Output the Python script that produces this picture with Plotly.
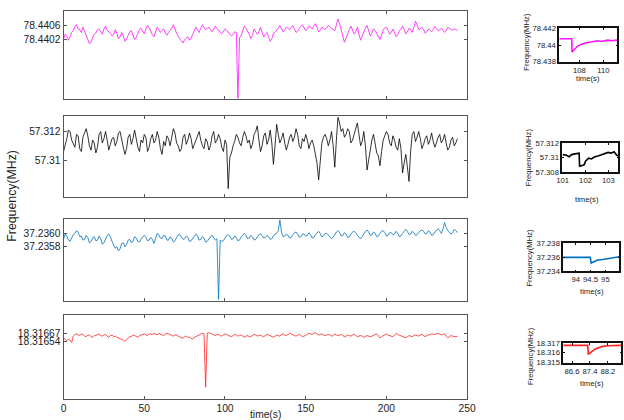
import plotly.graph_objects as go

# ---------------- main series (sampled every 1 s, t = 0 .. 244 s) ----------------
DT = 1.0
mag_vals = [78.44022, 78.44035, 78.44030, 78.44018, 78.44028, 78.44040, 78.44045, 78.44058, 78.44062, 78.44050,
            78.44048, 78.44040, 78.44055, 78.44045, 78.44030, 78.44020, 78.44008, 78.44012, 78.44025, 78.44035,
            78.44038, 78.44048, 78.44050, 78.44040, 78.44035, 78.44050, 78.44058, 78.44046, 78.44042, 78.44038,
            78.44030, 78.44034, 78.44048, 78.44038, 78.44022, 78.44028, 78.44040, 78.44030, 78.44015, 78.44020,
            78.44032, 78.44042, 78.44045, 78.44030, 78.44020, 78.44026, 78.44038, 78.44048, 78.44052, 78.44042,
            78.44036, 78.44050, 78.44060, 78.44055, 78.44044, 78.44034, 78.44028, 78.44042, 78.44055, 78.44048,
            78.44040, 78.44046, 78.44050, 78.44038, 78.44032, 78.44040, 78.44046, 78.44052, 78.44062, 78.44048,
            78.44038, 78.44030, 78.44020, 78.44016, 78.44010, 78.44020, 78.44025, 78.44028, 78.44018, 78.44024,
            78.44035, 78.44045, 78.44055, 78.44046, 78.44040, 78.44052, 78.44062, 78.44054, 78.44048, 78.44052,
            78.44055, 78.44048, 78.44042, 78.44050, 78.44058, 78.44052, 78.44045, 78.44040, 78.44036, 78.44044,
            78.44050, 78.44046, 78.44040, 78.44036, 78.44030, 78.44034, 78.44042, 78.44040, 78.43852, 78.44025,
            78.44030, 78.44045, 78.44058, 78.44052, 78.44045, 78.44035, 78.44022, 78.44032, 78.44050, 78.44044,
            78.44035, 78.44042, 78.44055, 78.44040, 78.44028, 78.44035, 78.44040, 78.44026, 78.44015, 78.44022,
            78.44038, 78.44040, 78.44045, 78.44052, 78.44060, 78.44050, 78.44042, 78.44048, 78.44055, 78.44052,
            78.44048, 78.44054, 78.44060, 78.44050, 78.44040, 78.44044, 78.44052, 78.44058, 78.44062, 78.44054,
            78.44045, 78.44050, 78.44058, 78.44056, 78.44050, 78.44058, 78.44065, 78.44055, 78.44042, 78.44046,
            78.44055, 78.44052, 78.44048, 78.44054, 78.44060, 78.44056, 78.44052, 78.44048, 78.44045, 78.44062,
            78.44078, 78.44065, 78.44050, 78.44030, 78.44012, 78.44025, 78.44040, 78.44048, 78.44058, 78.44048,
            78.44035, 78.44042, 78.44055, 78.44035, 78.44018, 78.44030, 78.44042, 78.44052, 78.44060, 78.44045,
            78.44030, 78.44038, 78.44050, 78.44046, 78.44038, 78.44030, 78.44020, 78.44032, 78.44048, 78.44052,
            78.44055, 78.44046, 78.44035, 78.44040, 78.44050, 78.44040, 78.44028, 78.44034, 78.44045, 78.44050,
            78.44058, 78.44048, 78.44036, 78.44042, 78.44052, 78.44048, 78.44040, 78.44055, 78.44072, 78.44062,
            78.44048, 78.44050, 78.44055, 78.44048, 78.44038, 78.44042, 78.44050, 78.44047, 78.44042, 78.44048,
            78.44058, 78.44052, 78.44045, 78.44047, 78.44052, 78.44046, 78.44040, 78.44045, 78.44055, 78.44052,
            78.44048, 78.44046, 78.44050, 78.44049, 78.44045]

blk_vals = [57.3106, 57.3110, 57.3115, 57.3121, 57.3120, 57.3114, 57.3112, 57.3109, 57.3118, 57.3117,
            57.3108, 57.3106, 57.3116, 57.3119, 57.3122, 57.3117, 57.3110, 57.3107, 57.3114, 57.3112,
            57.3105, 57.3109, 57.3118, 57.3120, 57.3112, 57.3115, 57.3120, 57.3114, 57.3107, 57.3111,
            57.3115, 57.3116, 57.3110, 57.3113, 57.3119, 57.3120, 57.3113, 57.3109, 57.3104, 57.3108,
            57.3116, 57.3118, 57.3111, 57.3115, 57.3121, 57.3114, 57.3109, 57.3106, 57.3114, 57.3112,
            57.3118, 57.3116, 57.3106, 57.3109, 57.3115, 57.3118, 57.3112, 57.3114, 57.3120, 57.3116,
            57.3108, 57.3104, 57.3113, 57.3110, 57.3117, 57.3115, 57.3110, 57.3116, 57.3122, 57.3119,
            57.3112, 57.3110, 57.3106, 57.3108, 57.3116, 57.3118, 57.3111, 57.3114, 57.3119, 57.3115,
            57.3108, 57.3111, 57.3114, 57.3117, 57.3120, 57.3114, 57.3110, 57.3108, 57.3115, 57.3113,
            57.3107, 57.3110, 57.3117, 57.3120, 57.3112, 57.3114, 57.3118, 57.3115, 57.3109, 57.3106,
            57.3114, 57.3111, 57.3080, 57.3102, 57.3105, 57.3110, 57.3113, 57.3118, 57.3116, 57.3112,
            57.3110, 57.3116, 57.3120, 57.3117, 57.3112, 57.3114, 57.3108, 57.3111, 57.3118, 57.3120,
            57.3124, 57.3114, 57.3106, 57.3110, 57.3117, 57.3119, 57.3111, 57.3114, 57.3121, 57.3112,
            57.3097, 57.3110, 57.3125, 57.3118, 57.3112, 57.3115, 57.3119, 57.3112, 57.3107, 57.3111,
            57.3116, 57.3118, 57.3113, 57.3116, 57.3122, 57.3118, 57.3110, 57.3108, 57.3115, 57.3113,
            57.3118, 57.3114, 57.3108, 57.3112, 57.3114, 57.3110, 57.3104, 57.3098, 57.3086, 57.3102,
            57.3112, 57.3116, 57.3118, 57.3115, 57.3110, 57.3114, 57.3120, 57.3110, 57.3095, 57.3114,
            57.3130, 57.3126, 57.3120, 57.3122, 57.3116, 57.3118, 57.3122, 57.3120, 57.3112, 57.3114,
            57.3118, 57.3122, 57.3126, 57.3118, 57.3110, 57.3113, 57.3120, 57.3110, 57.3093, 57.3100,
            57.3108, 57.3114, 57.3118, 57.3112, 57.3105, 57.3103, 57.3096, 57.3106, 57.3114, 57.3117,
            57.3120, 57.3118, 57.3112, 57.3110, 57.3117, 57.3114, 57.3109, 57.3107, 57.3115, 57.3108,
            57.3091, 57.3098, 57.3104, 57.3095, 57.3085, 57.3106, 57.3118, 57.3120, 57.3113, 57.3116,
            57.3120, 57.3115, 57.3108, 57.3111, 57.3115, 57.3117, 57.3111, 57.3114, 57.3119, 57.3113,
            57.3109, 57.3112, 57.3116, 57.3118, 57.3112, 57.3114, 57.3118, 57.3112, 57.3107, 57.3109,
            57.3114, 57.3116, 57.3110, 57.3112, 57.3115]

blu_vals = [37.23592, 37.23599, 37.23596, 37.23590, 37.23588, 37.23594, 37.23598, 37.23600, 37.23604, 37.23602,
            37.23595, 37.23596, 37.23590, 37.23591, 37.23597, 37.23594, 37.23586, 37.23588, 37.23593, 37.23595,
            37.23589, 37.23590, 37.23596, 37.23592, 37.23584, 37.23586, 37.23592, 37.23597, 37.23599, 37.23595,
            37.23588, 37.23584, 37.23578, 37.23580, 37.23574, 37.23577, 37.23585, 37.23586, 37.23580, 37.23583,
            37.23590, 37.23591, 37.23586, 37.23588, 37.23595, 37.23593, 37.23588, 37.23587, 37.23592, 37.23595,
            37.23597, 37.23594, 37.23589, 37.23590, 37.23594, 37.23591, 37.23585, 37.23593, 37.23600, 37.23598,
            37.23593, 37.23592, 37.23597, 37.23596, 37.23590, 37.23590, 37.23595, 37.23593, 37.23587, 37.23589,
            37.23594, 37.23598, 37.23598, 37.23595, 37.23591, 37.23592, 37.23596, 37.23594, 37.23588, 37.23589,
            37.23593, 37.23596, 37.23599, 37.23596, 37.23590, 37.23591, 37.23595, 37.23593, 37.23587, 37.23588,
            37.23592, 37.23595, 37.23597, 37.23594, 37.23590, 37.23592, 37.23502, 37.23590, 37.23588, 37.23589,
            37.23594, 37.23597, 37.23598, 37.23596, 37.23591, 37.23592, 37.23596, 37.23594, 37.23589, 37.23590,
            37.23595, 37.23598, 37.23600, 37.23597, 37.23592, 37.23593, 37.23597, 37.23595, 37.23590, 37.23591,
            37.23595, 37.23598, 37.23599, 37.23597, 37.23593, 37.23594, 37.23597, 37.23595, 37.23591, 37.23592,
            37.23596, 37.23599, 37.23600, 37.23604, 37.23620, 37.23602, 37.23595, 37.23596, 37.23599, 37.23597,
            37.23593, 37.23594, 37.23598, 37.23601, 37.23602, 37.23599, 37.23594, 37.23595, 37.23599, 37.23599,
            37.23596, 37.23597, 37.23601, 37.23598, 37.23593, 37.23594, 37.23598, 37.23601, 37.23603, 37.23600,
            37.23595, 37.23596, 37.23600, 37.23600, 37.23597, 37.23595, 37.23592, 37.23594, 37.23599, 37.23602,
            37.23604, 37.23601, 37.23596, 37.23597, 37.23601, 37.23599, 37.23594, 37.23595, 37.23599, 37.23602,
            37.23603, 37.23601, 37.23597, 37.23595, 37.23592, 37.23595, 37.23600, 37.23603, 37.23605, 37.23602,
            37.23597, 37.23598, 37.23602, 37.23600, 37.23595, 37.23596, 37.23600, 37.23603, 37.23604, 37.23601,
            37.23596, 37.23597, 37.23601, 37.23601, 37.23598, 37.23599, 37.23603, 37.23600, 37.23595, 37.23596,
            37.23600, 37.23604, 37.23606, 37.23603, 37.23598, 37.23599, 37.23603, 37.23601, 37.23597, 37.23598,
            37.23601, 37.23604, 37.23605, 37.23603, 37.23599, 37.23600, 37.23604, 37.23602, 37.23597, 37.23598,
            37.23602, 37.23605, 37.23607, 37.23604, 37.23600, 37.23606, 37.23616, 37.23609, 37.23604, 37.23602,
            37.23599, 37.23601, 37.23606, 37.23604, 37.23601]

red_vals = [18.31660, 18.31657, 18.31655, 18.31658, 18.31654, 18.31652, 18.31663, 18.31666, 18.31667, 18.31665,
            18.31664, 18.31667, 18.31666, 18.31663, 18.31662, 18.31665, 18.31665, 18.31662, 18.31661, 18.31664,
            18.31664, 18.31666, 18.31667, 18.31664, 18.31663, 18.31665, 18.31666, 18.31663, 18.31661, 18.31664,
            18.31665, 18.31662, 18.31663, 18.31661, 18.31660, 18.31659, 18.31658, 18.31656, 18.31654, 18.31657,
            18.31660, 18.31662, 18.31662, 18.31665, 18.31664, 18.31662, 18.31661, 18.31664, 18.31665, 18.31666,
            18.31667, 18.31665, 18.31664, 18.31667, 18.31666, 18.31666, 18.31668, 18.31666, 18.31665, 18.31668,
            18.31667, 18.31665, 18.31664, 18.31666, 18.31668, 18.31667, 18.31666, 18.31664, 18.31663, 18.31665,
            18.31665, 18.31663, 18.31662, 18.31660, 18.31659, 18.31662, 18.31663, 18.31661, 18.31661, 18.31659,
            18.31658, 18.31661, 18.31662, 18.31664, 18.31665, 18.31667, 18.31668, 18.31667, 18.31573, 18.31668,
            18.31669, 18.31668, 18.31667, 18.31665, 18.31664, 18.31666, 18.31666, 18.31664, 18.31663, 18.31665,
            18.31667, 18.31666, 18.31664, 18.31663, 18.31662, 18.31664, 18.31666, 18.31665, 18.31663, 18.31664,
            18.31665, 18.31663, 18.31661, 18.31663, 18.31664, 18.31662, 18.31662, 18.31664, 18.31666, 18.31665,
            18.31663, 18.31664, 18.31665, 18.31663, 18.31662, 18.31664, 18.31666, 18.31665, 18.31664, 18.31662,
            18.31661, 18.31663, 18.31665, 18.31664, 18.31663, 18.31666, 18.31667, 18.31665, 18.31664, 18.31666,
            18.31668, 18.31667, 18.31665, 18.31664, 18.31663, 18.31665, 18.31666, 18.31664, 18.31662, 18.31663,
            18.31665, 18.31667, 18.31668, 18.31667, 18.31666, 18.31668, 18.31669, 18.31667, 18.31665, 18.31666,
            18.31667, 18.31665, 18.31664, 18.31665, 18.31666, 18.31665, 18.31663, 18.31664, 18.31667, 18.31665,
            18.31664, 18.31665, 18.31666, 18.31664, 18.31662, 18.31663, 18.31665, 18.31664, 18.31663, 18.31665,
            18.31666, 18.31664, 18.31662, 18.31663, 18.31664, 18.31663, 18.31661, 18.31662, 18.31664, 18.31663,
            18.31662, 18.31663, 18.31665, 18.31666, 18.31667, 18.31663, 18.31660, 18.31662, 18.31664, 18.31666,
            18.31667, 18.31665, 18.31664, 18.31663, 18.31662, 18.31665, 18.31668, 18.31666, 18.31665, 18.31664,
            18.31663, 18.31661, 18.31660, 18.31662, 18.31664, 18.31663, 18.31662, 18.31664, 18.31665, 18.31664,
            18.31663, 18.31665, 18.31666, 18.31664, 18.31662, 18.31664, 18.31665, 18.31666, 18.31667, 18.31666,
            18.31666, 18.31667, 18.31668, 18.31666, 18.31665, 18.31666, 18.31667, 18.31663, 18.31660, 18.31662,
            18.31664, 18.31663, 18.31662, 18.31662, 18.31663]

# ---------------- zoomed insets ----------------
mag_zoom_t = [106.33, 107.0, 107.37, 107.39, 107.59, 107.87, 108.14, 108.56, 108.98, 109.54, 109.82, 110.38, 110.66, 111.16]
mag_zoom_v = [78.44076, 78.44076, 78.44076, 78.43916, 78.43948, 78.43988, 78.44008, 78.44028, 78.44036, 78.44052, 78.44044, 78.44060, 78.44052, 78.44060]

blk_zoom_t = [101.0, 101.17, 101.28, 101.39, 101.54, 101.68, 101.72, 101.74, 101.86, 101.94, 102.0, 102.09, 102.14, 102.26, 102.41, 102.55, 102.70, 102.84, 102.99, 103.13, 103.25, 103.35, 103.42]
blk_zoom_v = [57.3104, 57.3103, 57.3101, 57.3104, 57.3105, 57.3106, 57.3106, 57.3088, 57.3089, 57.3090, 57.3095, 57.3097, 57.3099, 57.3098, 57.3101, 57.3102, 57.3104, 57.3106, 57.3107, 57.3106, 57.3108, 57.3104, 57.3102]

blu_zoom_t = [93.58, 94.0, 94.3, 94.49, 94.52, 94.63, 94.74, 94.91, 95.08, 95.30, 95.47]
blu_zoom_v = [37.23600, 37.23600, 37.23600, 37.23600, 37.23519, 37.23543, 37.23562, 37.23571, 37.23586, 37.23595, 37.23610]

red_zoom_t = [86.21, 86.7, 87.0, 87.30, 87.33, 87.45, 87.60, 87.78, 87.97, 88.19, 88.5, 88.79]
red_zoom_v = [18.31679, 18.31679, 18.31679, 18.31679, 18.31582, 18.31611, 18.31636, 18.31654, 18.31668, 18.31675, 18.31678, 18.31679]

# tick labels
main_ytick_vals = [[78.4406, 78.4402], [57.312, 57.31], [37.2360, 37.2358], [18.31667, 18.31654]]
main_ytick_text = [["78.4406", "78.4402"], ["57.312", "57.31"], ["37.2360", "37.2358"], ["18.31667", "18.31654"]]
main_xticks = [0, 50, 100, 150, 200, 250]
inset_ytick_vals = [[78.438, 78.44, 78.442], [57.308, 57.31, 57.312], [37.234, 37.236, 37.238], [18.315, 18.316, 18.317]]
inset_ytick_text = [["78.438", "78.44", "78.442"], ["57.308", "57.31", "57.312"], ["37.234", "37.236", "37.238"], ["18.315", "18.316", "18.317"]]
inset_xtick_vals = [[108, 110], [101, 102, 103], [94, 94.5, 95], [86.6, 87.4, 88.2]]
inset_xtick_text = [["108", "110"], ["101", "102", "103"], ["94", "94.5", "95"], ["86.6", "87.4", "88.2"]]

colors = ["#ff10ff", "#000000", "#0072BD", "#ff2020"]
FONT = "Liberation Sans, Arial, sans-serif"

# The photographed picture shows the page slightly reduced (about 0.975, shifted a few px);
# layout positions below are given in target-picture pixels and converted to figure pixels.
S = 0.975
OX, OY = 5.5, 4.6
W, H = 634, 426

def dx(p):
    return (p - OX) / S

def dy(p):
    return (p - OY) / S

def fs(size):
    return size / S

def px_x(a, b):
    return [dx(a) / W, dx(b) / W]

def px_y(top, bottom):
    return [1 - dy(bottom) / H, 1 - dy(top) / H]

main_y_ranges = [[78.43851, 78.44100], [57.3074, 57.3131], [37.23500, 37.23621], [18.31552, 18.31701]]
main_y_pix = [(12, 99), (116, 197), (219, 300), (314, 398)]
inset_x_ranges = [[106.33, 111.17], [100.98, 103.44], [93.58, 95.47], [86.21, 88.80]]
inset_y_ranges = [[78.438, 78.442], [57.308, 57.312], [37.234, 37.238], [18.31493, 18.31707]]
inset_x_pix = [(558, 616), (561, 617), (562, 618), (562, 620)]
inset_y_pix = [(29, 62), (143, 172), (243, 271), (342, 362)]

fig = go.Figure()
series = [mag_vals, blk_vals, blu_vals, red_vals]
zooms = [(mag_zoom_t, mag_zoom_v), (blk_zoom_t, blk_zoom_v), (blu_zoom_t, blu_zoom_v), (red_zoom_t, red_zoom_v)]
layout = {}
for i in range(4):
    n = i + 1
    xs = "" if n == 1 else str(n)
    vals = series[i]
    t = [k * DT for k in range(len(vals))]
    fig.add_trace(go.Scatter(x=t, y=vals, mode="lines", xaxis="x" + xs, yaxis="y" + xs,
                             line=dict(color=colors[i], width=0.8), showlegend=False, hoverinfo="skip"))
    layout["xaxis" + xs] = dict(domain=px_x(63, 466), range=[0, 250], anchor="y" + xs,
                                tickvals=main_xticks, showticklabels=(i == 3),
                                showline=True, linecolor="#555", linewidth=1, mirror="ticks",
                                ticks="inside", ticklen=3, tickcolor="#555",
                                showgrid=False, zeroline=False,
                                tickfont=dict(family=FONT, size=fs(10), color="#222"))
    top, bot = main_y_pix[i]
    layout["yaxis" + xs] = dict(domain=px_y(top, bot), range=main_y_ranges[i], anchor="x" + xs,
                                tickvals=main_ytick_vals[i], ticktext=main_ytick_text[i],
                                showline=True, linecolor="#555", linewidth=1, mirror="ticks",
                                ticks="inside", ticklen=3, tickcolor="#555",
                                showgrid=False, zeroline=False,
                                tickfont=dict(family=FONT, size=fs(10), color="#222"))
    m = n + 4
    zt, zv = zooms[i]
    fig.add_trace(go.Scatter(x=zt, y=zv, mode="lines", xaxis="x" + str(m), yaxis="y" + str(m),
                             line=dict(color=colors[i], width=1.6), showlegend=False, hoverinfo="skip"))
    xa, xb = inset_x_pix[i]
    ya, yb = inset_y_pix[i]
    layout["xaxis" + str(m)] = dict(domain=px_x(xa, xb), range=inset_x_ranges[i], anchor="y" + str(m),
                                    tickvals=inset_xtick_vals[i], ticktext=inset_xtick_text[i],
                                    showline=True, linecolor="#111", linewidth=1.6, mirror="ticks",
                                    ticks="inside", ticklen=2, tickcolor="#111",
                                    showgrid=False, zeroline=False,
                                    tickfont=dict(family=FONT, size=fs(7.5), color="#222"))
    layout["yaxis" + str(m)] = dict(domain=px_y(ya, yb), range=inset_y_ranges[i], anchor="x" + str(m),
                                    tickvals=inset_ytick_vals[i], ticktext=inset_ytick_text[i],
                                    showline=True, linecolor="#111", linewidth=1.6, mirror="ticks",
                                    ticks="inside", ticklen=2, tickcolor="#111",
                                    showgrid=False, zeroline=False,
                                    tickfont=dict(family=FONT, size=fs(7.5), color="#222"))

def note(text, xp, yp, size, angle=0):
    return dict(text=text, x=dx(xp) / W, y=1 - dy(yp) / H, xref="paper", yref="paper",
                xanchor="center", yanchor="middle", textangle=angle, showarrow=False,
                font=dict(family=FONT, size=fs(size), color="#222"))

annotations = [note("Frequency(MHz)", 12, 196, 12, -90), note("time(s)", 265, 413, 10)]
inset_ytitle_pos = [(525, 42), (527, 157), (528, 257), (530, 355)]
inset_xtitle_pos = [(587, 79), (586, 199), (591, 291), (591, 383)]
for (xp, yp) in inset_ytitle_pos:
    annotations.append(note("Frequency(MHz)", xp, yp, 7.5, -90))
for (xp, yp) in inset_xtitle_pos:
    annotations.append(note("time(s)", xp, yp, 7.5))

fig.update_layout(width=W, height=H, autosize=False, margin=dict(l=0, r=0, t=0, b=0),
                  paper_bgcolor="white", plot_bgcolor="white", annotations=annotations, **layout)
fig.write_html("out.html")
